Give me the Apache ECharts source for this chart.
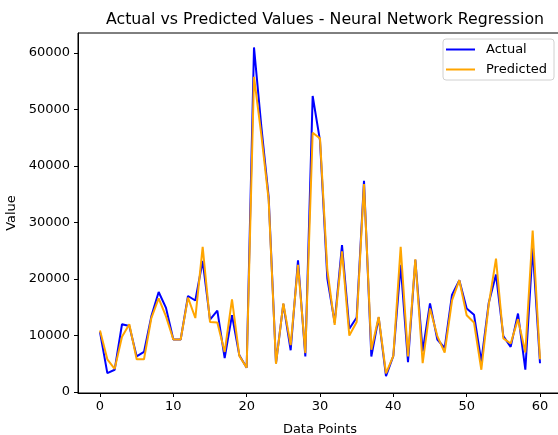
<!DOCTYPE html>
<html>
<head>
<meta charset="utf-8">
<script src="https://cdn.jsdelivr.net/npm/echarts@6/dist/echarts.min.js"></script>
<style>
html,body{margin:0;padding:0;overflow:hidden;background:#fff;}
#chart{width:570px;height:435px;}
</style>
</head>
<body>
<div id="chart"></div>
<script>
const title = "Actual vs Predicted Values - Neural Network Regression";
const xTicks = [0, 10, 20, 30, 40, 50, 60];
const yTicks = [0, 10000, 20000, 30000, 40000, 50000, 60000];
const actual = [10600, 3360, 3940, 12000, 11700, 6300, 7100, 13400, 17700, 14900,
  9300, 9300, 17000, 16200, 23200, 12800, 14400, 6000, 13600, 6500,
  4300, 61000, 47000, 34500, 5100, 15600, 7400, 23300, 6300, 52400,
  44500, 20100, 12300, 26000, 11200, 13200, 37400, 6300, 13200, 2800,
  6400, 22500, 5300, 23400, 7200, 15700, 9300, 7800, 17200, 19800,
  14800, 13700, 5400, 15700, 20800, 9900, 8000, 13900, 3950, 25500, 5100];
const predicted = [10900, 5800, 4100, 9800, 12000, 5800, 5800, 13100, 16600, 13400,
  9300, 9300, 16700, 13100, 25700, 12400, 12300, 7100, 16400, 6400,
  4300, 55800, 45500, 34000, 5000, 15700, 8300, 22500, 6900, 45900,
  44900, 21600, 11900, 24900, 10000, 12400, 36800, 7500, 13300, 3300,
  6400, 25700, 6300, 23500, 5100, 14800, 9900, 7000, 16200, 19800,
  13600, 12300, 3950, 15400, 23600, 9500, 8600, 12900, 7000, 28600, 5800];

const font = "DejaVu Sans";
const chart = echarts.init(document.getElementById('chart'), null, {renderer: 'canvas'});
const toPairs = arr => arr.map((v, i) => [i, v]);
chart.setOption({
  animation: false,
  title: {
    text: title, left: 320, top: 7, textAlign: 'center',
    textStyle: {fontFamily: font, fontSize: 15.8, fontWeight: 'normal', color: '#000'}
  },
  legend: {
    orient: 'vertical', left: 443, top: 39,
    padding: [4, 7, 4, 3],
    itemGap: 7,
    itemWidth: 29, itemHeight: 13,
    backgroundColor: 'rgba(255,255,255,0.8)',
    borderColor: '#d0d0d0', borderWidth: 1, borderRadius: 3,
    textStyle: {fontFamily: font, fontSize: 13, color: '#000', padding: [0, 0, 0, 6]},
    data: [
      {name: 'Actual', icon: 'path://M0,0 L29,0 L29,2 L0,2 Z'},
      {name: 'Predicted', icon: 'path://M0,0 L29,0 L29,2 L0,2 Z'}
    ]
  },
  grid: {left: 78, top: 33, right: 8, bottom: 42, show: true, borderColor: '#000', borderWidth: 1,
         containLabel: false, outerBoundsMode: 'none'},
  xAxis: {
    type: 'value', min: -3, max: 63,
    name: 'Data Points', nameLocation: 'middle', nameGap: 30,
    nameTextStyle: {fontFamily: font, fontSize: 13, color: '#000'},
    axisLine: {show: true, onZero: false, lineStyle: {color: '#000', width: 1}},
    axisTick: {show: true, inside: false, length: 4, customValues: xTicks, lineStyle: {color: '#000'}},
    axisLabel: {customValues: xTicks, fontFamily: font, fontSize: 13, color: '#000', margin: 7},
    splitLine: {show: false}
  },
  yAxis: {
    type: 'value', min: -170, max: 63550,
    name: 'Value', nameLocation: 'middle', nameGap: 60,
    nameTextStyle: {fontFamily: font, fontSize: 13, color: '#000'},
    axisLine: {show: true, onZero: false, lineStyle: {color: '#000', width: 1}},
    axisTick: {show: true, inside: false, length: 4, customValues: yTicks, lineStyle: {color: '#000'}},
    axisLabel: {customValues: yTicks, fontFamily: font, fontSize: 13, color: '#000', margin: 8,
                formatter: v => String(v)},
    splitLine: {show: false}
  },
  series: [
    {name: 'Actual', type: 'line', data: toPairs(actual), showSymbol: false, symbol: 'none',
     color: '#0000ff', lineStyle: {color: '#0000ff', width: 2}},
    {name: 'Predicted', type: 'line', data: toPairs(predicted), showSymbol: false, symbol: 'none',
     color: '#ffa500', lineStyle: {color: '#ffa500', width: 2}}
  ]
});
</script>
</body>
</html>
